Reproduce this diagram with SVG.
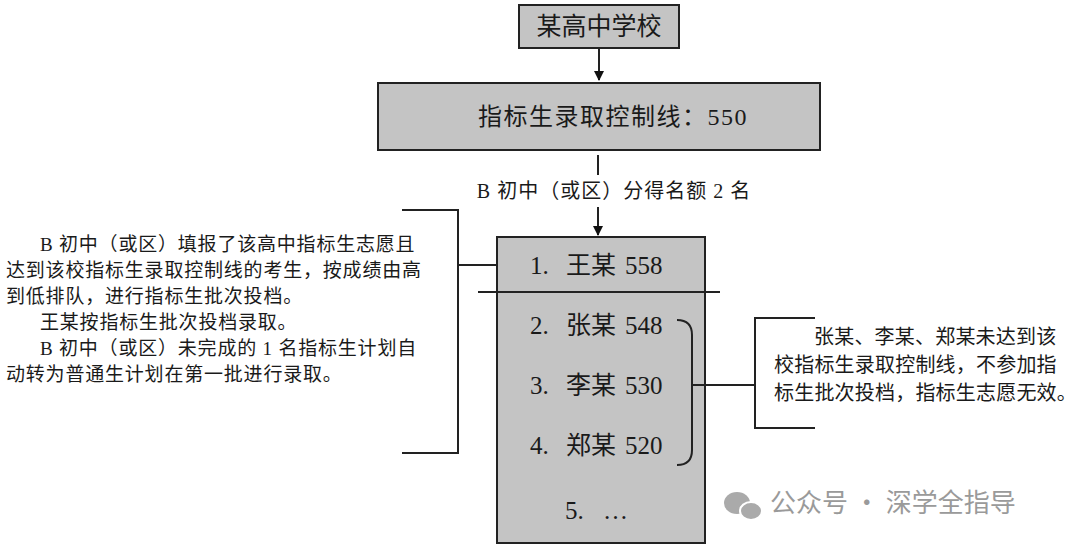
<svg xmlns="http://www.w3.org/2000/svg" width="1080" height="548" viewBox="0 0 1080 548">
<style>
.box{fill:#c4c4c4;stroke:#222;stroke-width:2}
.ln{fill:none;stroke:#222;stroke-width:2}
text{font-family:"Liberation Serif","Noto Sans CJK SC",serif;fill:#1a1a1a}
.t{font-size:19px;letter-spacing:0.8px}
.r{font-size:20px;letter-spacing:0.2px}
.b{font-size:24px}
.n{font-size:25px}
.wm{font-family:"Noto Sans CJK SC",sans-serif;fill:#9a9a9a;font-size:26px}
</style>
<defs><marker id="ar" markerWidth="10" markerHeight="10" refX="9" refY="5" orient="auto" markerUnits="userSpaceOnUse"><path d="M0,0 L10,5 L0,10 z" fill="#111"/></marker></defs>
<rect width="1080" height="548" fill="#fff"/>
<g id="n1"><rect class="box" x="519" y="5" width="160" height="43"/><text class="b" x="599" y="35" text-anchor="middle" style="font-size:25px">某高中学校</text></g>
<g id="n2"><rect class="box" x="378" y="83" width="442" height="67"/><text class="b" x="613" y="125" text-anchor="middle" style="letter-spacing:1.5px">指标生录取控制线：550</text></g>
<g id="n3"><rect class="box" x="497" y="237" width="208" height="306"/>
<text class="n" y="274"><tspan x="530">1.</tspan><tspan x="566">王某</tspan><tspan x="625">558</tspan></text>
<text class="n" y="334"><tspan x="530">2.</tspan><tspan x="566">张某</tspan><tspan x="625">548</tspan></text>
<text class="n" y="394"><tspan x="530">3.</tspan><tspan x="566">李某</tspan><tspan x="625">530</tspan></text>
<text class="n" y="454"><tspan x="530">4.</tspan><tspan x="566">郑某</tspan><tspan x="625">520</tspan></text>
<text class="n" y="519"><tspan x="565">5.</tspan><tspan x="603">…</tspan></text></g>
<g id="lbl"><text class="t" x="614" y="198" text-anchor="middle" style="font-size:20px;letter-spacing:1px">B 初中（或区）分得名额 2 名</text></g>
<g id="left"><text class="t">
<tspan x="40" y="251">B 初中（或区）填报了该高中指标生志愿且</tspan>
<tspan x="6" y="277">达到该校指标生录取控制线的考生，按成绩由高</tspan>
<tspan x="6" y="303">到低排队，进行指标生批次投档。</tspan>
<tspan x="40" y="329">王某按指标生批次投档录取。</tspan>
<tspan x="40" y="355">B 初中（或区）未完成的 1 名指标生计划自</tspan>
<tspan x="6" y="381">动转为普通生计划在第一批进行录取。</tspan></text></g>
<g id="right"><text class="r">
<tspan x="814" y="344">张某、李某、郑某未达到该</tspan>
<tspan x="774" y="372">校指标生录取控制线，不参加指</tspan>
<tspan x="774" y="400">标生批次投档，指标生志愿无效。</tspan></text></g>
<g id="connectors">
<line class="ln" x1="599" y1="48" x2="599" y2="80" marker-end="url(#ar)"/>
<line class="ln" x1="598" y1="155" x2="598" y2="175"/>
<line class="ln" x1="598" y1="207" x2="598" y2="235" marker-end="url(#ar)"/>
<line class="ln" x1="478" y1="292" x2="720" y2="292"/>
<path class="ln" d="M402,210 H458 V453 H402 M458,265 H497"/>
<path class="ln" d="M677,320 Q692,320 692,335 V450 Q692,465 677,465 M692,385 H755"/>
<path class="ln" d="M815,318 H755 V428 H815"/>
</g>
<g id="wm"><ellipse cx="737" cy="503" rx="13" ry="11" fill="#aaa"/><ellipse cx="751" cy="511" rx="11" ry="9" fill="#aaa" stroke="#fff" stroke-width="2"/>
<text class="wm" x="770" y="512">公众号 · 深学全指导</text></g>
</svg>
